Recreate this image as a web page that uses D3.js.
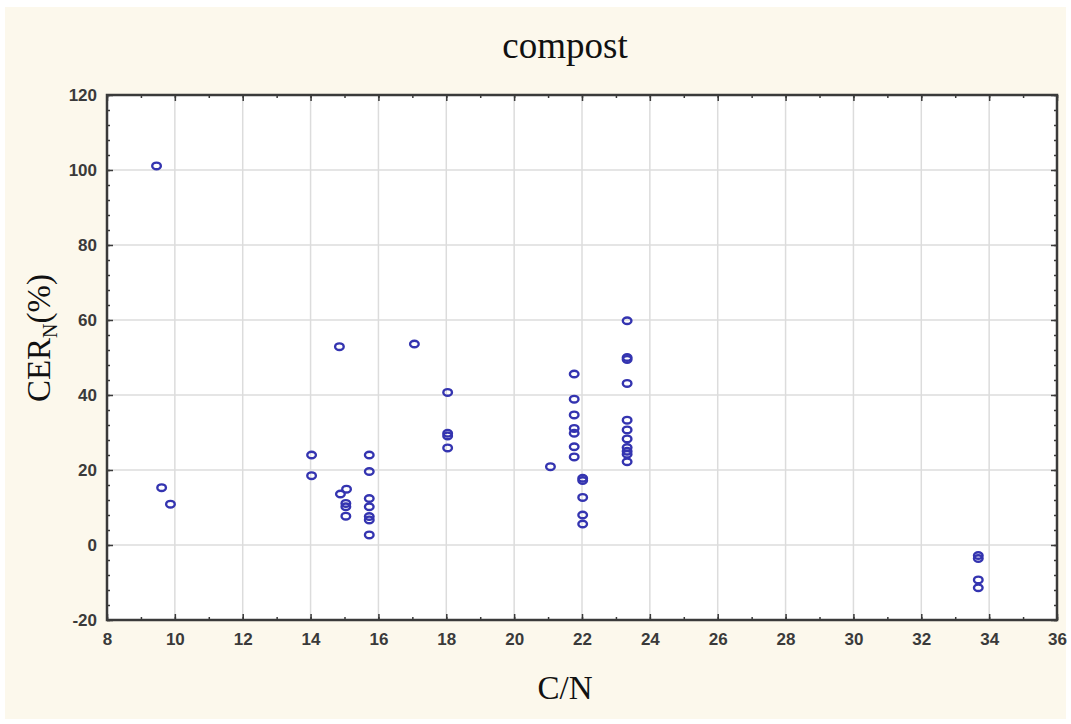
<!DOCTYPE html>
<html><head><meta charset="utf-8">
<script src="https://cdn.jsdelivr.net/npm/d3@7/dist/d3.min.js"></script>
<style>body{margin:0;background:#fff}svg{display:block}</style>
</head><body><svg id="chart" width="1071" height="724"></svg>
<script>
const chartTitle = "compost";
const xLabel = "C/N";
const cnValues = [9.46, 9.61, 9.87,
  14.03, 14.03, 14.85, 14.88, 15.06, 15.04, 15.04, 15.04,
  15.73, 15.73, 15.73, 15.73, 15.73, 15.73, 15.73,
  17.06, 18.04, 18.04, 18.04, 18.04,
  21.07, 21.77, 21.77, 21.77, 21.77, 21.77, 21.77, 21.77,
  22.02, 22.02, 22.02, 22.02, 22.02,
  23.33, 23.33, 23.33, 23.33, 23.33, 23.33, 23.33, 23.33, 23.33, 23.33, 23.33,
  33.68, 33.68, 33.68, 33.68];
const cerValues = [101.1, 15.3, 10.9,
  24.0, 18.5, 52.9, 13.6, 14.9, 11.1, 10.2, 7.7,
  24.0, 19.6, 12.4, 10.2, 7.6, 6.7, 2.7,
  53.6, 40.7, 29.8, 29.1, 25.9,
  20.9, 45.6, 38.9, 34.7, 31.1, 29.8, 26.2, 23.5,
  17.8, 17.2, 12.7, 8.0, 5.6,
  59.8, 50.0, 49.5, 43.1, 33.3, 30.7, 28.3, 26.0, 25.0, 24.2, 22.2,
  -2.8, -3.6, -9.3, -11.4];
const xTickValues = [8, 10, 12, 14, 16, 18, 20, 22, 24, 26, 28, 30, 32, 34, 36];
const yTickValues = [-20, 0, 20, 40, 60, 80, 100, 120];
const xMinorTicks = d3.range(8, 36.01, 1);
const yMinorTicks = d3.range(-20, 120.01, 4);

const svg = d3.select("#chart");
const W = 1071, H = 724;
const m = {left: 107, right: 1057, top: 95, bottom: 620};

svg.append("rect").attr("x", 5).attr("y", 7).attr("width", W - 10).attr("height", H - 12)
  .attr("fill", "#fcf8ec");

const x = d3.scaleLinear().domain([8, 36]).range([m.left, m.right]);
const y = d3.scaleLinear().domain([-20, 120]).range([m.bottom, m.top]);

svg.append("rect").attr("x", m.left).attr("y", m.top)
  .attr("width", m.right - m.left).attr("height", m.bottom - m.top).attr("fill", "#fff");

// gridlines
svg.append("g").selectAll("line").data(xTickValues.slice(1, -1)).join("line")
  .attr("x1", d => x(d)).attr("x2", d => x(d)).attr("y1", m.top).attr("y2", m.bottom)
  .attr("stroke", "#dcdcdc").attr("stroke-width", 1.5);
svg.append("g").selectAll("line").data(yTickValues.slice(1, -1)).join("line")
  .attr("y1", d => y(d)).attr("y2", d => y(d)).attr("x1", m.left).attr("x2", m.right)
  .attr("stroke", "#dcdcdc").attr("stroke-width", 1.5);

// axes with inward ticks
const axisColor = "#3a3a3a";
function styleAxis(g) {
  g.select(".domain").remove();
  g.selectAll("line").attr("stroke", axisColor).attr("stroke-width", 1.5);
}
const fmt = d => String(d); // hyphen-minus as in the original
const bottomMinor = svg.append("g").attr("transform", `translate(0,${m.bottom})`)
  .call(d3.axisBottom(x).tickValues(xMinorTicks).tickSize(-3).tickFormat(""));
styleAxis(bottomMinor);
const topMinor = svg.append("g").attr("transform", `translate(0,${m.top})`)
  .call(d3.axisTop(x).tickValues(xMinorTicks).tickSize(-3).tickFormat(""));
styleAxis(topMinor);
const leftMinor = svg.append("g").attr("transform", `translate(${m.left},0)`)
  .call(d3.axisLeft(y).tickValues(yMinorTicks).tickSize(-3).tickFormat(""));
styleAxis(leftMinor);
const rightMinor = svg.append("g").attr("transform", `translate(${m.right},0)`)
  .call(d3.axisRight(y).tickValues(yMinorTicks).tickSize(-3).tickFormat(""));
styleAxis(rightMinor);

const tickFont = "'Liberation Sans Narrow','Liberation Sans',Arial,sans-serif";
const xAxis = svg.append("g").attr("transform", `translate(0,${m.bottom})`)
  .call(d3.axisBottom(x).tickValues(xTickValues).tickSize(-6).tickPadding(13).tickFormat(fmt));
styleAxis(xAxis);
xAxis.selectAll("text").attr("fill", "#3a3a3a").style("font-family", tickFont)
  .style("font-size", "17px").style("font-weight", "bold");
const topAxis = svg.append("g").attr("transform", `translate(0,${m.top})`)
  .call(d3.axisTop(x).tickValues(xTickValues).tickSize(-6).tickFormat(""));
styleAxis(topAxis);
const yAxis = svg.append("g").attr("transform", `translate(${m.left},0)`)
  .call(d3.axisLeft(y).tickValues(yTickValues).tickSize(-6).tickPadding(10).tickFormat(fmt));
styleAxis(yAxis);
yAxis.selectAll("text").attr("fill", "#3a3a3a").style("font-family", tickFont)
  .style("font-size", "17px").style("font-weight", "bold");
const rightAxis = svg.append("g").attr("transform", `translate(${m.right},0)`)
  .call(d3.axisRight(y).tickValues(yTickValues).tickSize(-6).tickFormat(""));
styleAxis(rightAxis);

// frame
svg.append("rect").attr("x", m.left).attr("y", m.top)
  .attr("width", m.right - m.left).attr("height", m.bottom - m.top)
  .attr("fill", "none").attr("stroke", axisColor).attr("stroke-width", 2.5);

// points
const pts = cnValues.map((c, i) => ({cn: c, cer: cerValues[i]}));
svg.append("g").selectAll("ellipse").data(pts).join("ellipse")
  .attr("cx", d => x(d.cn)).attr("cy", d => y(d.cer))
  .attr("rx", 4.3).attr("ry", 3.3)
  .attr("fill", "none").attr("stroke", "#3434b0").attr("stroke-width", 2.4);

// titles
const serif = "'Liberation Serif','Times New Roman',serif";
svg.append("text").attr("x", 565).attr("y", 58).attr("text-anchor", "middle")
  .style("font-family", serif).style("font-size", "37px").attr("fill", "#111").text(chartTitle);
svg.append("text").attr("x", 565).attr("y", 699).attr("text-anchor", "middle")
  .style("font-family", serif).style("font-size", "33px").attr("fill", "#111").text(xLabel);
const yl = svg.append("text").attr("transform", "translate(50,338) rotate(-90)")
  .attr("text-anchor", "middle").style("font-family", serif).style("font-size", "33px").attr("fill", "#111");
yl.append("tspan").text("CER");
yl.append("tspan").attr("dy", 7).style("font-size", "20px").text("N");
yl.append("tspan").attr("dy", -7).text("(%)");
</script>
</body></html>
